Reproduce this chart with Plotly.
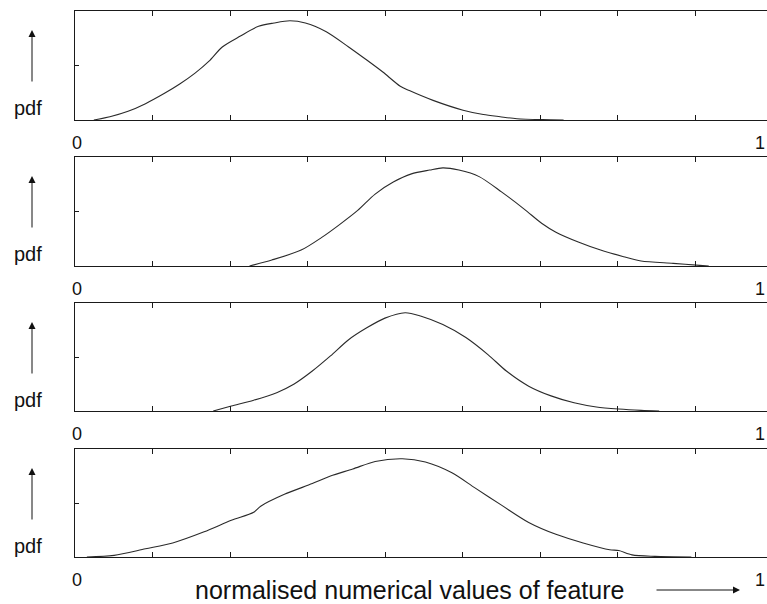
import plotly.graph_objects as go

# ---- data (normalised feature value, relative pdf height) ----
x1 = [0.027, 0.05, 0.076, 0.101, 0.127, 0.15, 0.172, 0.192, 0.211, 0.237, 0.263, 0.285, 0.308,
      0.33, 0.36, 0.392, 0.418, 0.441, 0.466, 0.479, 0.513, 0.556, 0.585, 0.609, 0.633, 0.67, 0.70]
y1 = [0.0, 0.03, 0.08, 0.15, 0.24, 0.33, 0.43, 0.54, 0.67, 0.77, 0.86, 0.89, 0.91,
      0.89, 0.81, 0.67, 0.55, 0.44, 0.31, 0.27, 0.18, 0.09, 0.05, 0.03, 0.012, 0.003, 0.0]

x2 = [0.25, 0.282, 0.324, 0.353, 0.379, 0.405, 0.43, 0.456, 0.482, 0.508, 0.527, 0.55, 0.579,
      0.611, 0.644, 0.669, 0.689, 0.721, 0.753, 0.786, 0.811, 0.857, 0.895, 0.908]
y2 = [0.0, 0.055, 0.146, 0.26, 0.38, 0.51, 0.66, 0.77, 0.845, 0.88, 0.90, 0.88, 0.82,
      0.68, 0.52, 0.39, 0.31, 0.22, 0.146, 0.085, 0.046, 0.024, 0.006, 0.0]

x3 = [0.198, 0.224, 0.256, 0.289, 0.314, 0.34, 0.366, 0.392, 0.418, 0.444, 0.473, 0.495, 0.527,
      0.56, 0.592, 0.618, 0.65, 0.682, 0.715, 0.747, 0.779, 0.811, 0.837]
y3 = [0.0, 0.046, 0.10, 0.17, 0.25, 0.37, 0.51, 0.66, 0.77, 0.86, 0.91, 0.88, 0.80,
      0.68, 0.52, 0.37, 0.23, 0.14, 0.076, 0.037, 0.018, 0.006, 0.0]

x4 = [0.017, 0.056, 0.101, 0.14, 0.185, 0.224, 0.256, 0.266, 0.30, 0.34, 0.366, 0.398, 0.43,
      0.469, 0.502, 0.54, 0.573, 0.611, 0.65, 0.689, 0.728, 0.766, 0.779, 0.798, 0.831, 0.883]
y4 = [0.0, 0.015, 0.076, 0.13, 0.233, 0.34, 0.415, 0.47, 0.58, 0.68, 0.75, 0.815, 0.885,
      0.91, 0.88, 0.78, 0.64, 0.48, 0.32, 0.21, 0.13, 0.067, 0.06, 0.02, 0.006, 0.0]

series = [(x1, y1), (x2, y2), (x3, y3), (x4, y4)]
x_tickvals = [k / 9 for k in range(0, 10)]
y_label = "pdf"
x_label = "normalised numerical values of feature"
end_labels = ["0", "1"]

# ---- layout ----
W, H = 767, 604
FONT = "Liberation Sans, Arial, Helvetica, sans-serif"
LINE = "#1a1a1a"
panels_px = [(11, 120), (157, 266), (303, 411), (449, 557)]  # (top, bottom) pixel rows
left_px = 75
xmax = (W - left_px) / 698.0  # x=1 sits just past the right edge

fig = go.Figure()
annotations = []
for i, ((xs, ys), (top, bot)) in enumerate(zip(series, panels_px)):
    n = "" if i == 0 else str(i + 1)
    fig.add_trace(go.Scatter(x=xs, y=ys, mode="lines", xaxis="x" + n, yaxis="y" + n,
                             line=dict(color="#2a2a2a", width=1.1, shape="spline", smoothing=0.8),
                             showlegend=False, hoverinfo="skip"))
    dom = [1 - bot / H, 1 - top / H]
    fig.layout["xaxis" + n] = dict(
        domain=[left_px / W, 1], range=[0, xmax], anchor="y" + n,
        showline=True, linecolor=LINE, linewidth=1.2, mirror="ticks",
        ticks="inside", ticklen=5, tickwidth=1, tickcolor=LINE,
        tickvals=x_tickvals, showticklabels=False, showgrid=False, zeroline=False)
    fig.layout["yaxis" + n] = dict(
        domain=dom, range=[0, 1], anchor="x" + n,
        showline=True, linecolor=LINE, linewidth=1.2, mirror=False,
        ticks="inside", ticklen=4, tickwidth=1, tickcolor=LINE,
        tickvals=[0.5], showticklabels=False, showgrid=False, zeroline=False)
    # pdf label + arrow
    annotations.append(dict(x=28 / W, y=1 - (top + 97) / H, xref="paper", yref="paper",
                            text=y_label, showarrow=False, font=dict(family=FONT, size=20, color="#111"),
                            xanchor="center", yanchor="middle"))
    annotations.append(dict(x=32 / W, y=1 - (top + 19) / H, xref="paper", yref="paper",
                            text="", showarrow=True, ax=0, ay=53, arrowhead=2, arrowsize=1.4,
                            arrowwidth=1, arrowcolor="#111"))
    # 0 and 1 end labels
    annotations.append(dict(x=77 / W, y=1 - (bot + 23) / H, xref="paper", yref="paper",
                            text=end_labels[0], showarrow=False,
                            font=dict(family=FONT, size=18, color="#111"),
                            xanchor="center", yanchor="middle"))
    annotations.append(dict(x=1, y=1 - (bot + 23) / H, xref="paper", yref="paper",
                            text=end_labels[1], showarrow=False,
                            font=dict(family=FONT, size=18, color="#111"),
                            xanchor="right", yanchor="middle"))

# bottom axis label with arrow
annotations.append(dict(x=193 / W, y=1 - 590 / H, xref="paper", yref="paper",
                        text=x_label, showarrow=False, font=dict(family=FONT, size=25, color="#111"),
                        xanchor="left", yanchor="middle"))
annotations.append(dict(x=740 / W, y=1 - 590 / H, xref="paper", yref="paper",
                        text="", showarrow=True, ax=-85, ay=0, arrowhead=2, arrowsize=1.4,
                        arrowwidth=1, arrowcolor="#111"))

fig.update_layout(width=W, height=H, margin=dict(l=0, r=0, t=0, b=0),
                  paper_bgcolor="white", plot_bgcolor="white",
                  annotations=annotations, showlegend=False)

fig.write_html("out.html")
